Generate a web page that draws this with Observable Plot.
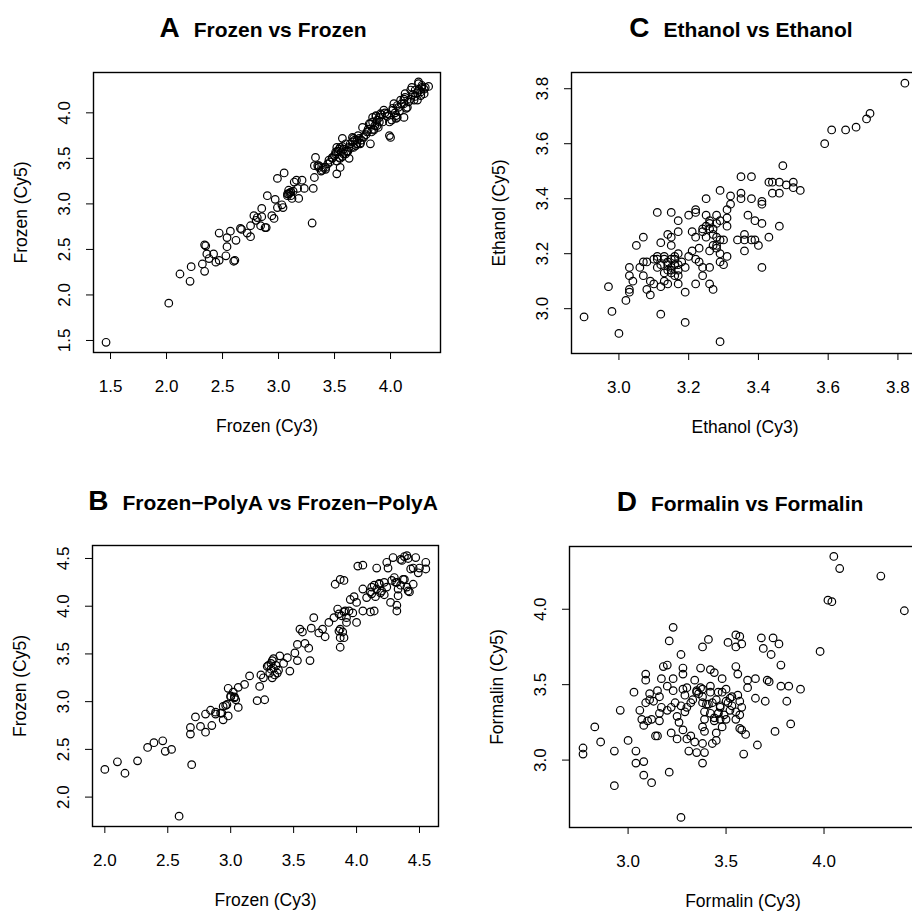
<!DOCTYPE html>
<html><head><meta charset="utf-8">
<script src="https://cdn.jsdelivr.net/npm/d3@7"></script>
<script src="https://cdn.jsdelivr.net/npm/@observablehq/plot@0.6"></script>
<style>
html,body{margin:0;padding:0;background:#fff;}
#wrap{position:relative;width:912px;height:911px;overflow:hidden;background:#fff;font-family:"Liberation Sans",Arial,Helvetica,sans-serif;}
#wrap > svg, #wrap > figure{position:absolute;margin:0;}
</style></head><body><div id="wrap"></div>
<script>
// ---- data: [Cy3, Cy5] log intensities ----
const frozenPoints = [[1.46,1.48],[2.02,1.91],[2.12,2.23],[2.21,2.15],[2.22,2.31],[2.32,2.34],[2.34,2.26],[2.34,2.55],[2.35,2.54],[2.36,2.45],[2.38,2.40],[2.42,2.45],[2.44,2.36],[2.47,2.38],[2.47,2.68],[2.53,2.43],[2.54,2.53],[2.54,2.63],[2.57,2.70],[2.60,2.37],[2.61,2.38],[2.62,2.60],[2.66,2.73],[2.67,2.72],[2.72,2.68],[2.75,2.64],[2.75,2.76],[2.78,2.87],[2.80,2.82],[2.81,2.85],[2.84,2.76],[2.85,2.86],[2.85,2.95],[2.88,2.74],[2.89,2.74],[2.90,3.09],[2.94,2.87],[2.96,2.84],[2.97,3.05],[2.99,2.96],[2.99,3.28],[3.03,2.99],[3.05,3.34],[3.04,2.96],[3.08,3.11],[3.09,3.15],[3.11,3.13],[3.12,3.06],[3.14,3.24],[3.16,3.26],[3.17,3.17],[3.18,3.06],[3.21,3.26],[3.23,3.17],[3.30,2.79],[3.31,3.17],[3.32,3.29],[3.33,3.51],[3.32,3.42],[3.36,3.42],[3.39,3.37],[3.42,3.40],[3.45,3.48],[3.48,3.51],[3.51,3.57],[3.52,3.62],[3.52,3.33],[3.54,3.51],[3.55,3.40],[3.57,3.72],[3.58,3.55],[3.61,3.57],[3.63,3.50],[3.64,3.66],[3.66,3.73],[3.67,3.62],[3.70,3.70],[3.73,3.66],[3.75,3.84],[3.76,3.73],[3.79,3.79],[3.81,3.88],[3.82,3.66],[3.84,3.95],[3.85,3.81],[3.87,3.97],[3.88,3.86],[3.90,3.90],[3.91,3.99],[3.94,4.03],[3.97,3.99],[3.99,3.90],[3.99,3.75],[4.00,3.73],[4.02,4.03],[4.03,4.10],[4.05,3.97],[4.06,3.95],[4.07,4.06],[4.09,4.14],[4.12,3.95],[4.12,4.10],[4.13,4.21],[4.15,4.06],[4.18,4.15],[4.19,4.28],[4.21,4.14],[4.22,4.25],[4.24,4.14],[4.25,4.34],[4.27,4.23],[4.28,4.28],[4.30,4.21],[4.34,4.29],
[3.48,3.50],[3.50,3.53],[3.51,3.55],[3.53,3.58],[3.54,3.60],[3.55,3.62],[3.56,3.57],[3.57,3.63],[3.58,3.60],[3.52,3.47],[3.55,3.50],[3.60,3.55],[3.62,3.58],[3.63,3.62],[3.60,3.66],[3.57,3.52],[3.46,3.46],[3.44,3.44],[3.40,3.40],[3.42,3.38],[3.38,3.36],[3.36,3.40],[3.35,3.42],[3.66,3.68],[3.68,3.70],[3.70,3.66],[3.72,3.72],[3.74,3.70],[3.76,3.74],[3.78,3.76],[3.73,3.67],[3.69,3.64],[3.65,3.62],[3.67,3.72],[3.71,3.75],[3.82,3.88],[3.84,3.90],[3.86,3.86],[3.88,3.92],[3.90,3.95],[3.92,3.98],[3.87,3.96],[3.85,3.82],[3.89,3.84],[3.93,3.90],[3.95,4.00],[3.97,3.96],[3.83,3.79],[3.80,3.82],[4.02,4.05],[4.04,4.00],[4.06,4.08],[4.08,4.02],[4.10,4.10],[4.12,4.15],[4.14,4.05],[4.05,3.94],[4.01,3.92],[4.16,4.12],[4.13,4.17],[4.20,4.20],[4.22,4.18],[4.24,4.22],[4.26,4.25],[4.28,4.30],[4.30,4.26],[4.25,4.32],[4.27,4.19],[4.31,4.28],[4.18,4.25],[3.08,3.09],[3.10,3.12],[3.11,3.09],[3.13,3.14],[3.09,3.11]];

const ethanolPoints = [[3.82,3.82],[3.72,3.71],[3.71,3.69],[3.68,3.66],[3.65,3.65],[3.61,3.65],[3.59,3.60],[3.47,3.52],[3.35,3.48],[3.38,3.48],[3.43,3.46],[3.44,3.46],[3.46,3.46],[3.48,3.45],[3.50,3.46],[3.50,3.44],[3.52,3.43],[3.44,3.42],[3.46,3.42],[3.29,3.43],[3.32,3.41],[3.35,3.42],[3.35,3.40],[3.38,3.40],[3.41,3.39],[3.41,3.38],[3.25,3.40],[3.32,3.38],[3.31,3.36],[3.31,3.33],[3.31,3.30],[3.11,3.35],[3.15,3.35],[3.17,3.32],[3.20,3.34],[3.22,3.36],[3.22,3.35],[3.25,3.34],[3.28,3.34],[3.29,3.32],[3.37,3.34],[3.39,3.32],[3.41,3.31],[3.46,3.30],[3.07,3.26],[3.05,3.23],[3.12,3.24],[3.14,3.27],[3.15,3.26],[3.15,3.23],[3.17,3.28],[3.21,3.28],[3.22,3.26],[3.24,3.29],[3.26,3.31],[3.27,3.29],[3.28,3.26],[3.25,3.26],[3.23,3.22],[3.26,3.21],[3.28,3.23],[3.30,3.25],[3.28,3.22],[3.29,3.20],[3.31,3.19],[3.29,3.17],[3.30,3.16],[3.36,3.27],[3.36,3.25],[3.38,3.25],[3.39,3.25],[3.40,3.23],[3.43,3.26],[3.34,3.25],[3.36,3.21],[3.41,3.15],[3.21,3.21],[3.22,3.18],[3.23,3.17],[3.24,3.15],[3.24,3.12],[3.26,3.15],[3.26,3.09],[3.27,3.07],[3.22,3.09],[3.19,3.06],[3.19,2.95],[3.29,2.88],[3.12,2.98],[3.00,2.91],[2.98,2.99],[2.90,2.97],[2.97,3.08],[3.02,3.03],[3.03,3.06],[3.03,3.07],[3.03,3.12],[3.04,3.10],[3.03,3.15],[3.06,3.15],[3.07,3.17],[3.09,3.05],[3.09,3.10],[3.08,3.07],[3.10,3.09],[3.07,3.12],[3.12,3.08],[3.13,3.10],[3.14,3.09],[3.17,3.09],[3.17,3.12],[3.11,3.15],[3.11,3.19],[3.13,3.18],[3.14,3.16],[3.15,3.18],[3.16,3.19],[3.16,3.16],[3.17,3.20],[3.15,3.14],[3.17,3.14],[3.19,3.15],[3.20,3.19],[3.13,3.13],[3.16,3.12],[3.10,3.18],[3.08,3.17],
[3.12,3.16],[3.14,3.17],[3.15,3.15],[3.16,3.18],[3.17,3.16],[3.13,3.19],[3.15,3.13],[3.18,3.17],[3.11,3.18],[3.14,3.14],[3.25,3.30],[3.26,3.29],[3.27,3.27],[3.28,3.31],[3.29,3.25],[3.27,3.23],[3.26,3.32],[3.24,3.28]];

const polyAPoints = [[2.00,2.29],[2.10,2.37],[2.16,2.25],[2.26,2.38],[2.34,2.52],[2.39,2.57],[2.46,2.59],[2.48,2.48],[2.53,2.50],[2.59,1.80],[2.69,2.34],[2.68,2.66],[2.68,2.73],[2.72,2.84],[2.76,2.74],[2.80,2.68],[2.80,2.87],[2.84,2.91],[2.85,2.75],[2.88,2.89],[2.92,2.88],[2.94,2.81],[2.94,2.95],[2.97,2.97],[2.98,2.85],[2.98,3.14],[3.00,3.06],[3.03,3.05],[3.04,3.02],[3.06,2.94],[3.06,3.15],[3.11,3.18],[3.15,3.27],[3.21,3.01],[3.27,3.02],[3.23,3.16],[3.24,3.28],[3.26,3.25],[3.29,3.37],[3.32,3.34],[3.33,3.25],[3.34,3.45],[3.37,3.30],[3.39,3.48],[3.42,3.40],[3.45,3.46],[3.47,3.32],[3.51,3.51],[3.53,3.60],[3.53,3.43],[3.55,3.76],[3.57,3.73],[3.59,3.61],[3.62,3.56],[3.63,3.43],[3.64,3.77],[3.66,3.88],[3.70,3.72],[3.73,3.76],[3.75,3.68],[3.78,3.83],[3.82,3.88],[3.83,4.23],[3.85,3.97],[3.86,3.74],[3.87,4.28],[3.87,3.67],[3.87,3.57],[3.90,3.67],[3.90,4.27],[3.92,3.83],[3.94,3.95],[3.95,4.07],[3.97,3.93],[3.98,4.10],[4.00,3.83],[4.00,4.04],[4.01,4.42],[4.05,4.43],[4.05,4.18],[4.05,3.95],[4.08,4.09],[4.11,3.94],[4.12,4.13],[4.14,3.95],[4.16,4.40],[4.18,4.23],[4.19,4.14],[4.22,4.25],[4.24,4.46],[4.25,4.40],[4.27,4.04],[4.29,4.51],[4.31,4.25],[4.32,4.01],[4.32,3.95],[4.33,4.11],[4.35,4.49],[4.37,4.28],[4.40,4.53],[4.41,4.16],[4.43,4.39],[4.45,4.23],[4.47,4.51],[4.49,4.35],[4.55,4.46],[4.55,4.39],
[3.30,3.38],[3.32,3.40],[3.34,3.35],[3.36,3.38],[3.31,3.30],[3.35,3.28],[3.33,3.43],[3.38,3.33],[3.86,3.92],[3.88,3.90],[3.90,3.94],[3.92,3.88],[3.87,3.76],[3.89,3.73],[3.91,3.95],[4.12,4.20],[4.14,4.22],[4.16,4.18],[4.18,4.24],[4.20,4.16],[4.22,4.12],[4.24,4.20],[4.15,4.10],[4.11,4.15],[4.30,4.30],[4.32,4.25],[4.35,4.22],[4.38,4.28],[4.40,4.20],[4.42,4.15],[4.45,4.40],[4.36,4.48],[4.41,4.50],[4.38,4.52],[4.50,4.40],[4.33,4.18],[4.28,4.27],[2.93,2.88],[2.96,2.96],[3.00,3.05],[3.03,3.04],[2.88,2.87],[3.02,3.10]];

const formalinPoints = [[4.05,4.35],[4.08,4.27],[4.29,4.22],[4.41,3.99],[4.02,4.06],[4.04,4.05],[3.98,3.72],[3.23,3.88],[3.21,3.79],[3.27,3.70],[3.38,3.75],[3.41,3.80],[3.51,3.78],[3.55,3.83],[3.57,3.82],[3.55,3.75],[3.58,3.77],[3.68,3.81],[3.74,3.81],[3.69,3.74],[3.77,3.77],[3.73,3.70],[3.78,3.63],[3.88,3.47],[3.82,3.49],[3.78,3.49],[3.81,3.39],[3.83,3.24],[3.75,3.19],[3.66,3.10],[3.70,3.39],[3.65,3.41],[3.61,3.53],[3.61,3.48],[3.65,3.54],[3.71,3.53],[3.72,3.52],[3.55,3.62],[3.56,3.57],[3.48,3.54],[3.44,3.58],[3.42,3.60],[3.37,3.61],[3.28,3.61],[3.28,3.57],[3.20,3.63],[3.18,3.62],[3.17,3.54],[3.23,3.54],[3.20,3.49],[3.23,3.46],[3.15,3.46],[3.09,3.57],[3.09,3.53],[3.03,3.45],[2.96,3.33],[3.11,3.44],[3.13,3.39],[3.09,3.38],[3.06,3.33],[3.07,3.27],[3.08,3.23],[3.10,3.26],[3.12,3.27],[3.16,3.26],[3.16,3.31],[3.17,3.35],[3.20,3.33],[3.14,3.16],[3.15,3.16],[3.22,3.18],[3.25,3.14],[3.28,3.20],[3.25,3.29],[3.26,3.25],[3.27,3.36],[3.29,3.32],[3.30,3.35],[3.29,3.43],[3.28,3.47],[3.30,3.48],[3.32,3.38],[3.34,3.53],[3.35,3.46],[3.36,3.44],[3.37,3.48],[3.38,3.42],[3.38,3.38],[3.39,3.32],[3.39,3.27],[3.38,3.22],[3.39,3.19],[3.42,3.49],[3.42,3.45],[3.41,3.37],[3.43,3.38],[3.44,3.26],[3.45,3.18],[3.45,3.13],[3.43,3.11],[3.38,3.11],[3.39,3.05],[3.38,2.98],[3.34,3.12],[3.32,3.16],[3.30,3.14],[3.31,3.06],[3.35,3.05],[3.46,3.45],[3.47,3.36],[3.46,3.31],[3.47,3.27],[3.48,3.22],[3.50,3.39],[3.50,3.47],[3.52,3.41],[3.53,3.36],[3.55,3.32],[3.55,3.27],[3.56,3.43],[3.57,3.39],[3.57,3.30],[3.57,3.21],[3.58,3.20],[3.60,3.17],[3.59,3.04],[3.58,3.35],[3.21,2.92],[3.12,2.85],[3.08,2.90],[3.04,2.98],[3.08,2.99],[3.04,3.06],[3.00,3.13],[2.93,3.06],[2.93,2.83],[2.86,3.12],[2.83,3.22],[2.77,3.08],[2.77,3.04],[3.27,2.62],[3.22,3.35],[3.24,3.38],[3.16,3.42],[3.11,3.40],
[3.45,3.40],[3.47,3.35],[3.49,3.30],[3.51,3.38],[3.53,3.42],[3.44,3.28],[3.48,3.45],[3.52,3.33],[3.46,3.31],[3.50,3.27],[3.35,3.45],[3.33,3.40],[3.38,3.47],[3.40,3.37],[3.42,3.31]];

// tick values
const ticksA = [1.5, 2.0, 2.5, 3.0, 3.5, 4.0];
const ticksB = [2.0, 2.5, 3.0, 3.5, 4.0, 4.5];
const ticksCx = [3.0, 3.2, 3.4, 3.6, 3.8];
const ticksCy = [3.0, 3.2, 3.4, 3.6, 3.8];
const ticksDx = [3.0, 3.5, 4.0];
const ticksDy = [3.0, 3.5, 4.0];

// titles and labels
const letters = ["A", "C", "B", "D"];
const titles = ["Frozen vs Frozen", "Ethanol vs Ethanol", "Frozen\u2212PolyA vs Frozen\u2212PolyA", "Formalin vs Formalin"];
const xLabels = ["Frozen (Cy3)", "Ethanol (Cy3)", "Frozen (Cy3)", "Formalin (Cy3)"];
const yLabels = ["Frozen (Cy5)", "Ethanol (Cy5)", "Frozen (Cy5)", "Formalin (Cy5)"];

const FONT = '"Liberation Sans", Arial, Helvetica, sans-serif';
const fmt = d3.format(".1f");
const wrap = document.getElementById("wrap");

const panels = [
  {pts: frozenPoints, xt: ticksA, yt: ticksA, xd: [1.348, 4.446], yd: [1.368, 4.443],
   left: 0, top: 0, width: 456, height: 456, ml: 93, mr: 16, mt: 72, mb: 104, tx: 263, ty: 37},
  {pts: ethanolPoints, xt: ticksCx, yt: ticksCy, xd: [2.864, 3.859], yd: [2.837, 3.859],
   left: 456, top: 0, width: 472, height: 456, ml: 115, mr: 10, mt: 72, mb: 103, tx: 741, ty: 37},
  {pts: polyAPoints, xt: ticksB, yt: ticksB, xd: [1.902, 4.651], yd: [1.692, 4.636],
   left: 0, top: 456, width: 456, height: 455, ml: 92, mr: 18, mt: 89, mb: 85, tx: 263, ty: 510},
  {pts: formalinPoints, xt: ticksDx, yt: ticksDy, xd: [2.701, 4.472], yd: [2.553, 4.416],
   left: 456, top: 456, width: 470, height: 455, ml: 113, mr: 10, mt: 90, mb: 84, tx: 740, ty: 511}
];

panels.forEach((p, i) => {
  const chart = Plot.plot({
    width: p.width, height: p.height,
    marginLeft: p.ml, marginRight: p.mr, marginTop: p.mt, marginBottom: p.mb,
    style: {fontFamily: FONT, color: "black", background: "transparent"},
    x: {domain: p.xd},
    y: {domain: p.yd},
    marks: [
      Plot.axisX(p.xt, {tickSize: 7, tickPadding: 20, tickFormat: fmt, fontSize: 17, label: null}),
      Plot.axisY(p.yt, {tickSize: 7, tickPadding: 17, tickRotate: -90, tickFormat: fmt, fontSize: 17, label: null}),
      Plot.text([xLabels[i]], {frameAnchor: "bottom", dy: 79, lineAnchor: "bottom", textAnchor: "middle", fontSize: 17.5, fill: "black"}),
      Plot.text([yLabels[i]], {frameAnchor: "left", dx: -79, rotate: -90, lineAnchor: "top", textAnchor: "middle", fontSize: 17.5, fill: "black"}),
      Plot.dot(p.pts, {x: d => d[0], y: d => d[1], r: 3.8, stroke: "black", strokeWidth: 1.2, fill: "none"}),
      Plot.frame({stroke: "black", strokeWidth: 1.4})
    ]
  });
  chart.style.position = "absolute";
  chart.style.left = p.left + "px";
  chart.style.top = p.top + "px";
  wrap.appendChild(chart);
});

// panel titles (overlay)
const ov = d3.select(wrap).append("svg")
  .attr("width", 912).attr("height", 911)
  .style("position", "absolute").style("left", "0px").style("top", "0px")
  .style("pointer-events", "none");
panels.forEach((p, i) => {
  const t = ov.append("text")
    .attr("x", p.tx).attr("y", p.ty)
    .attr("text-anchor", "middle")
    .attr("font-family", FONT).attr("font-weight", "bold").attr("fill", "black");
  t.append("tspan").attr("font-size", 28).text(letters[i]);
  t.append("tspan").attr("dx", 14).attr("font-size", 21).text(titles[i]);
});
</script>
</body></html>
